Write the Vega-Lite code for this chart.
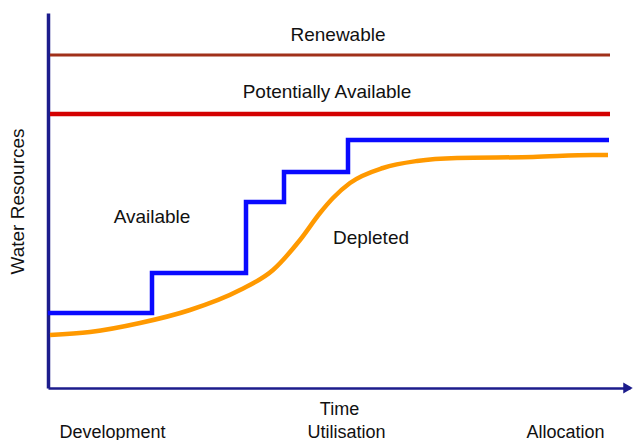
{
  "$schema": "https://vega.github.io/schema/vega-lite/v6.json",
  "width": 582,
  "height": 375,
  "autosize": "none",
  "padding": {"left": 48, "top": 13, "right": 8, "bottom": 52},
  "background": "white",
  "config": {"view": {"stroke": null}, "font": "Liberation Sans"},
  "datasets": {
    "renewable": [{"x": 2, "y": 333}, {"x": 562, "y": 333}],
    "potential": [{"x": 2, "y": 274}, {"x": 562, "y": 274}],
    "available": [{"x": 0, "y": 75}, {"x": 104, "y": 115}, {"x": 198, "y": 186}, {"x": 236, "y": 216}, {"x": 300, "y": 248}, {"x": 561, "y": 248}],
    "depleted": [{"x": 2, "y": 53}, {"x": 42, "y": 56}, {"x": 92, "y": 65}, {"x": 142, "y": 78}, {"x": 192, "y": 98}, {"x": 225, "y": 118}, {"x": 252, "y": 148}, {"x": 272, "y": 175}, {"x": 285, "y": 190}, {"x": 302, "y": 205}, {"x": 335, "y": 220}, {"x": 369, "y": 227}, {"x": 409, "y": 230}, {"x": 485, "y": 231}, {"x": 545, "y": 233}, {"x": 560, "y": 233}],
    "labels": [
      {"label": "Renewable", "x": 290, "y": 353},
      {"label": "Potentially Available", "x": 279, "y": 296},
      {"label": "Available", "x": 104, "y": 171},
      {"label": "Depleted", "x": 323, "y": 150}
    ],
    "arrow": [{"x": 580, "y": 0}]
  },
  "encoding": {
    "x": {"field": "x", "type": "quantitative", "scale": {"domain": [0, 582], "nice": false, "zero": false},
      "axis": {"title": "Time", "domainColor": "#1c1c8c", "domainWidth": 2.5, "ticks": false, "grid": false,
        "values": [64, 298, 517], "labelExpr": "datum.value == 64 ? 'Development' : datum.value == 298 ? 'Utilisation' : 'Allocation'",
        "labelFontSize": 18, "labelColor": "#111", "labelPadding": 49, "labelBaseline": "alphabetic", "labelFont": "Liberation Sans",
        "titleFontSize": 18, "titleFontWeight": "normal", "titleColor": "#111", "titleY": 21, "titleBaseline": "middle", "titleFont": "Liberation Sans"}},
    "y": {"field": "y", "type": "quantitative", "scale": {"domain": [0, 375], "nice": false, "zero": false},
      "axis": {"title": "Water Resources", "domainColor": "#1c1c8c", "domainWidth": 3.5, "ticks": false, "labels": false, "grid": false,
        "titleFontSize": 19, "titleFontWeight": "normal", "titleColor": "#111", "titleX": -31, "titleY": 188, "titleAngle": -90, "titleAlign": "center", "titleBaseline": "middle", "titleFont": "Liberation Sans"}}
  },
  "layer": [
    {"data": {"name": "renewable"}, "mark": {"type": "line", "color": "#a0301a", "strokeWidth": 3}},
    {"data": {"name": "potential"}, "mark": {"type": "line", "color": "#d40000", "strokeWidth": 4.5}},
    {"data": {"name": "depleted"}, "mark": {"type": "line", "color": "#ff9900", "strokeWidth": 4.5, "interpolate": "monotone"}},
    {"data": {"name": "available"}, "mark": {"type": "line", "color": "#0a0aff", "strokeWidth": 4.5, "interpolate": "step-after"}},
    {"data": {"name": "labels"}, "mark": {"type": "text", "fontSize": 19, "color": "#111", "font": "Liberation Sans"}, "encoding": {"text": {"field": "label"}}},
    {"data": {"name": "arrow"}, "mark": {"type": "point", "shape": "triangle-right", "filled": true, "color": "#1c1c8c", "size": 120, "opacity": 1, "clip": false}}
  ]
}
